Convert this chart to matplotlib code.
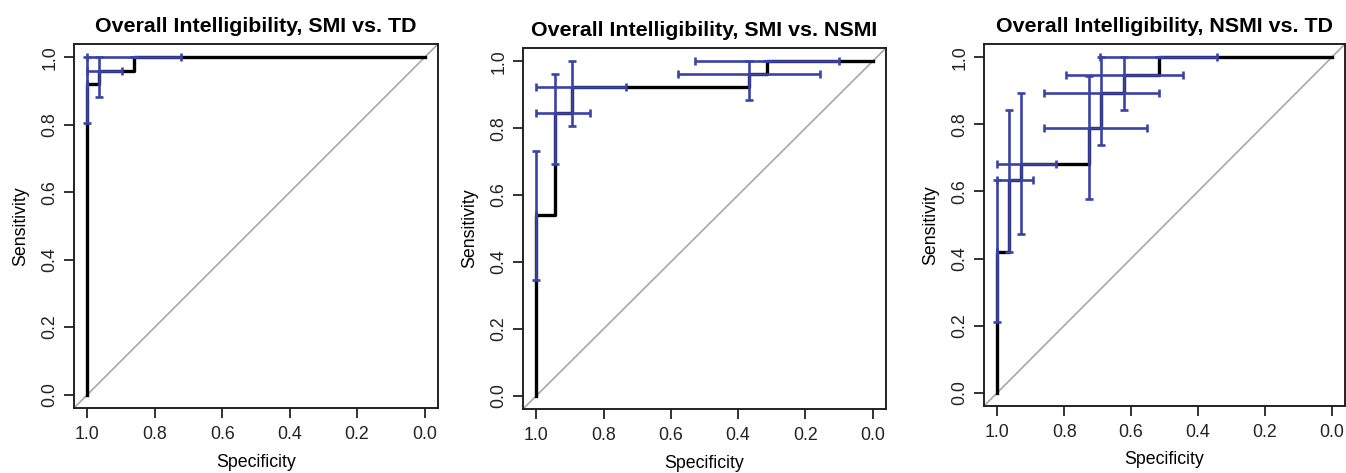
import matplotlib
matplotlib.use('Agg')
import matplotlib.pyplot as plt

plt.rcParams['font.family'] = ['Liberation Sans', 'DejaVu Sans']

# === ROC curves (specificity, sensitivity) ===
titles = ['Overall Intelligibility, SMI vs. TD',
          'Overall Intelligibility, SMI vs. NSMI',
          'Overall Intelligibility, NSMI vs. TD']

smi_td_spec = [1.0, 1.0, 0.967, 0.861, 0.0]
smi_td_sens = [0.0, 0.92, 0.96, 1.0, 1.0]

smi_nsmi_spec = [1.0, 1.0, 0.945, 0.894, 0.368, 0.313, 0.0]
smi_nsmi_sens = [0.0, 0.539, 0.846, 0.923, 0.962, 1.0, 1.0]

nsmi_td_spec = [1.0, 1.0, 0.966, 0.93, 0.725, 0.69, 0.622, 0.516, 0.0]
nsmi_td_sens = [0.0, 0.42, 0.633, 0.683, 0.79, 0.895, 0.947, 1.0, 1.0]

# === confidence intervals at thresholds ===
smi_td_ci_sp = [1.0, 0.967, 0.861]
smi_td_ci_se = [0.92, 0.96, 1.0]
smi_td_sp_lo = [1.0, 0.898, 0.723]
smi_td_sp_hi = [1.0, 1.0, 1.0]
smi_td_se_lo = [0.805, 0.884, 1.0]
smi_td_se_hi = [1.0, 1.0, 1.0]

smi_nsmi_ci_sp = [1.0, 0.945, 0.894, 0.368, 0.313]
smi_nsmi_ci_se = [0.539, 0.846, 0.923, 0.962, 1.0]
smi_nsmi_sp_lo = [1.0, 0.841, 0.733, 0.156, 0.101]
smi_nsmi_sp_hi = [1.0, 1.0, 1.0, 0.580, 0.527]
smi_nsmi_se_lo = [0.347, 0.694, 0.808, 0.885, 1.0]
smi_nsmi_se_hi = [0.731, 0.962, 1.0, 1.0, 1.0]

nsmi_td_ci_sp = [1.0, 0.966, 0.93, 0.725, 0.69, 0.622, 0.516]
nsmi_td_ci_se = [0.42, 0.633, 0.683, 0.79, 0.895, 0.947, 1.0]
nsmi_td_sp_lo = [1.0, 0.894, 0.826, 0.551, 0.516, 0.446, 0.342]
nsmi_td_sp_hi = [1.0, 1.0, 1.0, 0.861, 0.861, 0.794, 0.692]
nsmi_td_se_lo = [0.21, 0.42, 0.474, 0.579, 0.738, 0.843, 1.0]
nsmi_td_se_hi = [0.633, 0.843, 0.895, 0.945, 1.0, 1.0, 1.0]

ticks = [1.0, 0.8, 0.6, 0.4, 0.2, 0.0]
tick_labels = ['1.0', '0.8', '0.6', '0.4', '0.2', '0.0']

panels = [
    (smi_td_spec, smi_td_sens, smi_td_ci_sp, smi_td_ci_se,
     smi_td_sp_lo, smi_td_sp_hi, smi_td_se_lo, smi_td_se_hi),
    (smi_nsmi_spec, smi_nsmi_sens, smi_nsmi_ci_sp, smi_nsmi_ci_se,
     smi_nsmi_sp_lo, smi_nsmi_sp_hi, smi_nsmi_se_lo, smi_nsmi_se_hi),
    (nsmi_td_spec, nsmi_td_sens, nsmi_td_ci_sp, nsmi_td_ci_se,
     nsmi_td_sp_lo, nsmi_td_sp_hi, nsmi_td_se_lo, nsmi_td_se_hi),
]

BLUE = '#3a43a6'
W, H = 1346, 473
# axes boxes in pixels: left, top, right, bottom
boxes = [(74, 44, 438, 408), (523, 48, 886, 409), (984, 44, 1345, 406)]

fig = plt.figure(figsize=(W / 100, H / 100), dpi=100)

for (l, t, r, b), title, data in zip(boxes, titles, panels):
    spec, sens, csp, cse, sp_lo, sp_hi, se_lo, se_hi = data
    ax = fig.add_axes([l / W, 1 - b / H, (r - l) / W, (b - t) / H])
    ax.set_xlim(1.04, -0.04)
    ax.set_ylim(-0.04, 1.04)

    # chance line
    ax.plot([1.04, -0.04], [-0.04, 1.04], color='#a8a8a8', lw=1.2, zorder=1)
    # ROC curve
    ax.step(spec, sens, where='post', color='black', lw=2.4, zorder=2)
    # CI crosses
    xerr = [[c - lo for c, lo in zip(csp, sp_lo)], [hi - c for c, hi in zip(csp, sp_hi)]]
    yerr = [[c - lo for c, lo in zip(cse, se_lo)], [hi - c for c, hi in zip(cse, se_hi)]]
    ax.errorbar(csp, cse, xerr=xerr, yerr=yerr, fmt='none', ecolor=BLUE,
                elinewidth=1.9, capsize=2.6, capthick=1.9, zorder=3)

    ax.set_xticks(ticks, tick_labels)
    ax.set_yticks(ticks, tick_labels, rotation=90, va='center')
    ax.tick_params(direction='out', length=7, width=1.3, labelsize=12.8, pad=6,
                   colors='#222222')
    ax.tick_params(axis='y', pad=4)
    for s in ax.spines.values():
        s.set_linewidth(1.4)
        s.set_color('#222222')

    ax.set_title(title, fontsize=15.4, fontweight='bold', pad=9)
    ax.set_xlabel('Specificity', fontsize=12.8)
    ax.xaxis.label.set_va('center')
    ax.xaxis.set_label_coords(0.5, -54 / (b - t))
    ax.set_ylabel('Sensitivity', fontsize=12.8)
    ax.yaxis.label.set_va('center')
    ax.yaxis.set_label_coords(-53 / (r - l), 0.5)

fig.savefig('out.png', dpi=100)
